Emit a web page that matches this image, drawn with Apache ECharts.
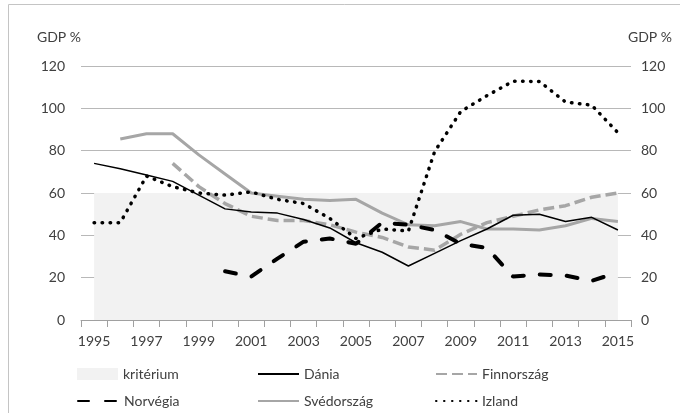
<!DOCTYPE html>
<html>
<head>
<meta charset="utf-8">
<script src="https://cdn.jsdelivr.net/npm/echarts@6/dist/echarts.min.js"></script>
<style>
  html, body { margin: 0; padding: 0; background: #fff; }
  #chart { width: 680px; height: 413px; }
</style>
</head>
<body>
<div id="chart"></div>
<script>
const years = ['1995', '1996', '1997', '1998', '1999', '2000', '2001', '2002', '2003', '2004', '2005',
  '2006', '2007', '2008', '2009', '2010', '2011', '2012', '2013', '2014', '2015'];

// GDP % adatok
const kriterium = [60, 60, 60, 60, 60, 60, 60, 60, 60, 60, 60, 60, 60, 60, 60, 60, 60, 60, 60, 60, 60];
const dania = [74, 71.5, 68.5, 65.5, 59, 52.5, 51, 50.5, 47.5, 43.5, 36.5, 32, 25.5, 31.5, 37.5, 43, 49.5, 50, 46.5, 48.5, 42.5];
const finnorszag = [null, null, null, 74, 63, 55, 49, 47, 47, 45, 41.5, 39, 34.5, 33, 40.5, 46, 49, 52, 54, 58, 60];
const norvegia = [null, null, null, null, null, 23, 20.5, 29, 37, 38.5, 36, 46, 45, 42.5, 36, 34, 20.5, 21.5, 21, 18.5, 22.5];
const svedorszag = [null, 85.5, 88, 88, 78, 69, 60, 58.5, 57, 56.5, 57, 50.5, 45, 44.5, 46.5, 43, 43, 42.5, 44.5, 48, 46.5];
const izland = [46, 46, 68, 63, 60, 59, 60.5, 57, 55, 48, 38.5, 43, 42, 79.5, 98.5, 106, 112.8, 112.7, 103, 101.5, 88.5];

const yTicks = { min: 0, max: 120, interval: 20 };

const font = 'Lato';
const textColor = '#404040';
const gray = '#a6a6a6';
const fill = '#f2f2f2';

const chart = echarts.init(document.getElementById('chart'));

// egy jelmagyarázat-elem = egy legend, hogy a 3x2-es rács pontosan álljon
const legendAt = (name, left, top, extra) => Object.assign({
  left: left,
  top: top,
  itemWidth: 41,
  itemHeight: 12,
  selectedMode: false,
  textStyle: { fontSize: 14, color: textColor, fontFamily: font },
  itemStyle: { color: 'rgba(0,0,0,0)', borderWidth: 0 },
  data: [name]
}, extra || {});

const option = {
  animation: false,
  graphic: [{
    type: 'rect',
    silent: true,
    shape: { x: 8.5, y: 4.5, width: 700, height: 440 },
    style: { fill: 'none', stroke: '#c4c4c4', lineWidth: 1 }
  }],
  title: [
    { text: 'GDP %', left: 32, top: 25, textStyle: { fontSize: 14, fontWeight: 'normal', color: textColor, fontFamily: font } },
    { text: 'GDP %', left: 623, top: 25, textStyle: { fontSize: 14, fontWeight: 'normal', color: textColor, fontFamily: font } }
  ],
  legend: [
    legendAt('kritérium', 72, 362, { data: [{ name: 'kritérium', icon: 'rect', itemStyle: { color: fill } }] }),
    legendAt('Dánia', 252, 362),
    legendAt('Finnország', 430, 362),
    legendAt('Norvégia', 72, 389),
    legendAt('Svédország', 252, 389),
    legendAt('Izland', 430, 389)
  ],
  grid: { left: 81, right: 49, top: 66, bottom: 93 },
  xAxis: {
    type: 'category',
    data: years,
    boundaryGap: true,
    axisLine: { lineStyle: { color: '#a0a0a0', width: 1 } },
    axisTick: { show: true, interval: 0, length: 7, lineStyle: { color: '#a0a0a0' } },
    axisLabel: { interval: 1, margin: 14, fontSize: 14, color: textColor, fontFamily: font },
    splitLine: { show: false }
  },
  yAxis: [
    {
      type: 'value', position: 'left', min: yTicks.min, max: yTicks.max, interval: yTicks.interval,
      axisLine: { show: false }, axisTick: { show: false },
      axisLabel: { margin: 16, fontSize: 14, color: textColor, fontFamily: font },
      splitLine: { lineStyle: { color: '#b8b8b8', width: 1 } }
    },
    {
      type: 'value', position: 'right', min: yTicks.min, max: yTicks.max, interval: yTicks.interval,
      axisLine: { show: false }, axisTick: { show: false },
      axisLabel: { margin: 10, fontSize: 14, color: textColor, fontFamily: font },
      splitLine: { show: false }
    }
  ],
  series: [
    {
      name: 'kritérium', type: 'line', data: kriterium, symbol: 'none',
      itemStyle: { color: fill },
      lineStyle: { width: 0, color: fill },
      areaStyle: { color: fill, opacity: 1 },
      z: 1
    },
    {
      name: 'Svédország', type: 'line', data: svedorszag, symbol: 'none',
      itemStyle: { color: gray },
      lineStyle: { color: gray, width: 3 }
    },
    {
      name: 'Finnország', type: 'line', data: finnorszag, symbol: 'none',
      itemStyle: { color: gray },
      lineStyle: { color: gray, width: 3.5, type: [11, 5] }
    },
    {
      name: 'Dánia', type: 'line', data: dania, symbol: 'none',
      itemStyle: { color: '#000' },
      lineStyle: { color: '#000', width: 1.5 }
    },
    {
      name: 'Norvégia', type: 'line', data: norvegia, symbol: 'none',
      itemStyle: { color: '#000' },
      lineStyle: { color: '#000', width: 4, type: [11, 16], cap: 'round' }
    },
    {
      name: 'Izland', type: 'line', data: izland, symbol: 'none',
      itemStyle: { color: '#000' },
      lineStyle: { color: '#000', width: 3.5, type: [0.5, 7.5], cap: 'round' }
    }
  ]
};

chart.setOption(option);
</script>
</body>
</html>
